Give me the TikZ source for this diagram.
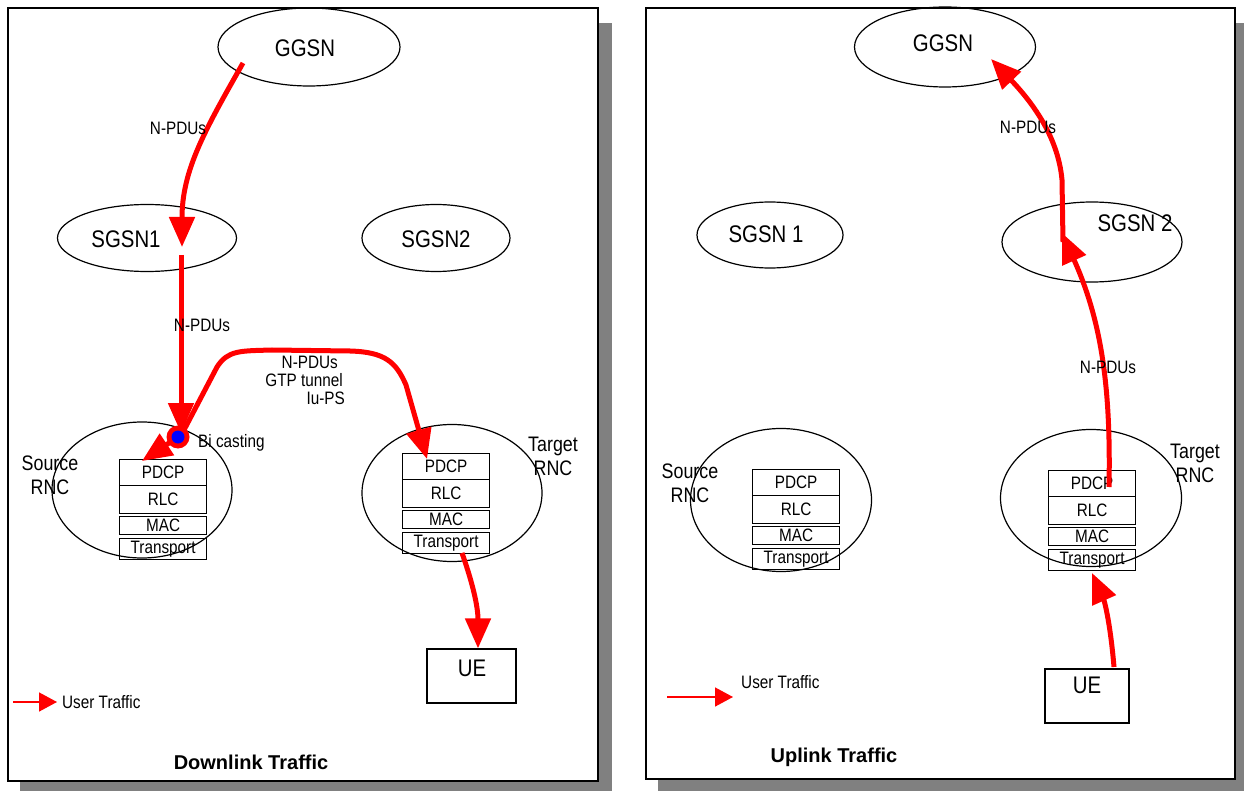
\documentclass[tikz,border=0pt]{standalone}
\usepackage{fontspec}
\setmainfont[FakeStretch=0.85]{Liberation Sans}
\newfontfamily\titlefam{Liberation Sans}
\usetikzlibrary{arrows.meta,shapes.geometric}
\newcommand\bigsz{\fontsize{24}{26}\selectfont}
\newcommand\rncsz{\fontsize{21}{24}\selectfont}
\newcommand\midsz{\fontsize{18}{20}\selectfont}
\newcommand\smsz{\fontsize{18}{19}\selectfont}
\newcommand\titlesz{\titlefam\bfseries\fontsize{20}{22}\selectfont}
\newcommand\pstack[3]{%
  \node[layer, minimum height=26pt] (#1pdcp) at (#2,#3) {PDCP};
  \node[layer, minimum height=28pt] (#1rlc) at (#2,#3+26) {RLC};
  \node[layer, minimum height=18pt] (#1mac) at (#2,#3+57) {MAC};
  \node[layer, minimum height=21pt] (#1trans) at (#2,#3+79) {Transport};
}
\begin{document}
\begin{tikzpicture}[x=1pt,y=-1pt,
  shadowbox/.style={fill=black!50, draw=none},
  panel/.style={draw=black, line width=1.6pt, fill=white},
  ell/.style={draw=black, ellipse, line width=1.2pt, inner sep=0pt},
  layer/.style={draw=black, line width=1.2pt, anchor=north west, inner sep=0pt, minimum width=87pt, font=\midsz},
  flow/.style={draw=red, line width=5pt, -{Triangle[length=30pt,width=25pt]}},
  legarrow/.style={draw=red, line width=1.5pt, -{Triangle[length=18pt,width=19pt]}},
  lbl/.style={inner sep=0pt, font=\smsz},
  biglbl/.style={inner sep=0pt, font=\bigsz},
  rnclbl/.style={inner sep=0pt, font=\rncsz, align=center},
  title/.style={inner sep=0pt, font=\titlesz}]
\useasboundingbox (0,0) rectangle (1244,791);
\fill[white] (0,0) rectangle (1244,791);
% shadows and panels
\path[shadowbox] (20,23) rectangle (612,800);
\path[shadowbox] (658,23) rectangle (1250,800);
\draw[panel] (8,8) rectangle (598,781);
\draw[panel] (646,8) rectangle (1235,779);

% ---------------- Downlink panel ----------------
\node[ell, minimum width=182pt, minimum height=78pt] (ggsnL) at (309,47) {};
\node[biglbl] (ggsnLt) at (305,48) {GGSN};
\node[ell, minimum width=179pt, minimum height=67pt] (sgsn1L) at (147,238) {};
\node[biglbl] (sgsn1Lt) at (126,239) {SGSN1};
\node[ell, minimum width=148pt, minimum height=67pt] (sgsn2L) at (436,238) {};
\node[biglbl] (sgsn2Lt) at (436,239) {SGSN2};
\node[ell, minimum width=180pt, minimum height=136pt] (srcL) at (142,490) {};
\node[ell, minimum width=180pt, minimum height=137pt] (tgtL) at (452,493) {};
\pstack{srcL}{119}{459}
\pstack{tgtL}{402}{453}
\node[rnclbl] (srcLt) at (50,475) {Source\\RNC};
\node[rnclbl] (tgtLt) at (553,456) {Target\\RNC};
\node[draw=black, line width=1.2pt, minimum width=89pt, minimum height=54pt, inner sep=0pt] (ueL) at (471.5,676) {};
\node[biglbl] (ueLt) at (472,668) {UE};

\coordinate (ggsnLout) at (243,63);
\coordinate (sgsn1Lin) at (182,247);
\coordinate (sgsn1Lout) at (181,255);
\coordinate (bicast) at (178,437);
\coordinate (srcLin) at (142,461);
\coordinate (tgtLin) at (427,459);
\coordinate (tgtLout) at (462,553);

\draw[flow] (ggsnLout) .. controls (205,130) and (182,170) .. (sgsn1Lin);
\draw[flow] (sgsn1Lout) -- (181,433);
\draw[flow] (bicast) -- (srcLin);
\draw[flow] (184,430) -- (217,367) .. controls (228,350) and (240,351) .. (272,350)
   -- (350,351) .. controls (385,352) and (396,362) .. (406,385) -- (tgtLin);
\draw[flow] (tgtLout) .. controls (475,590) and (478,610) .. (ueL.north -| 478,0);
\fill[red] (bicast) circle (11.5);
\node[circle, fill=blue, inner sep=0pt, minimum size=13pt] (bicastdot) at (bicast) {};

\node[lbl] (npdu1L) at (178,128) {N-PDUs};
\node[lbl] (npdu2L) at (202,325) {N-PDUs};
\node[lbl, anchor=east] (npdu3L) at (338,362) {N-PDUs};
\node[lbl, anchor=east] (gtpL) at (343,380) {GTP tunnel};
\node[lbl, anchor=east] (iupsL) at (345,398) {Iu-PS};
\node[lbl, anchor=west] (bicastt) at (198,443) {Bi casting};

\coordinate (legLa) at (13,702);
\coordinate (legLb) at (57,702);
\draw[legarrow] (legLa) -- (legLb);
\node[lbl, anchor=west] (legLt) at (62,702) {User Traffic};
\node[title] (dlt) at (251,762) {Downlink Traffic};

% ---------------- Uplink panel ----------------
\node[ell, minimum width=181pt, minimum height=80pt] (ggsnR) at (945,47) {};
\node[biglbl] (ggsnRt) at (943,43) {GGSN};
\node[ell, minimum width=146pt, minimum height=66pt] (sgsn1R) at (770,235) {};
\node[biglbl] (sgsn1Rt) at (766,234) {SGSN 1};
\node[ell, minimum width=180pt, minimum height=80pt] (sgsn2R) at (1092,242) {};
\node[biglbl] (sgsn2Rt) at (1135,223) {SGSN 2};
\node[ell, minimum width=181pt, minimum height=143pt] (srcR) at (781,500) {};
\node[ell, minimum width=181pt, minimum height=137pt] (tgtR) at (1091,498) {};
\pstack{srcR}{752}{469}
\pstack{tgtR}{1048}{470}
\node[rnclbl] (srcRt) at (690,483) {Source\\RNC};
\node[rnclbl] (tgtRt) at (1195,463) {Target\\RNC};
\node[draw=black, line width=1.2pt, minimum width=84pt, minimum height=54pt, inner sep=0pt] (ueR) at (1087,696) {};
\node[biglbl] (ueRt) at (1087,685) {UE};

\coordinate (ueRout) at (1114,667);
\coordinate (tgtRin) at (1092,573);
\coordinate (tgtRout) at (1109,487);
\coordinate (sgsn2Rin) at (1062,233);
\coordinate (sgsn2Rout) at (1063,242);
\coordinate (ggsnRin) at (991,59);

\draw[flow] (ueRout) .. controls (1110,620) and (1104,600) .. (tgtRin);
\draw[flow] (tgtRout) .. controls (1111,385) and (1101,320) .. (sgsn2Rin);
\draw[flow] (sgsn2Rout) -- (1062,180) .. controls (1058,135) and (1030,100) .. (ggsnRin);

\node[lbl] (npdu1R) at (1028,127) {N-PDUs};
\node[lbl] (npdu2R) at (1108,367) {N-PDUs};

\coordinate (legRa) at (667,697);
\coordinate (legRb) at (733,697);
\draw[legarrow] (legRa) -- (legRb);
\node[lbl, anchor=west] (legRt) at (741,682) {User Traffic};
\node[title] (ult) at (834,757) {Uplink Traffic};
\end{tikzpicture}
\end{document}
